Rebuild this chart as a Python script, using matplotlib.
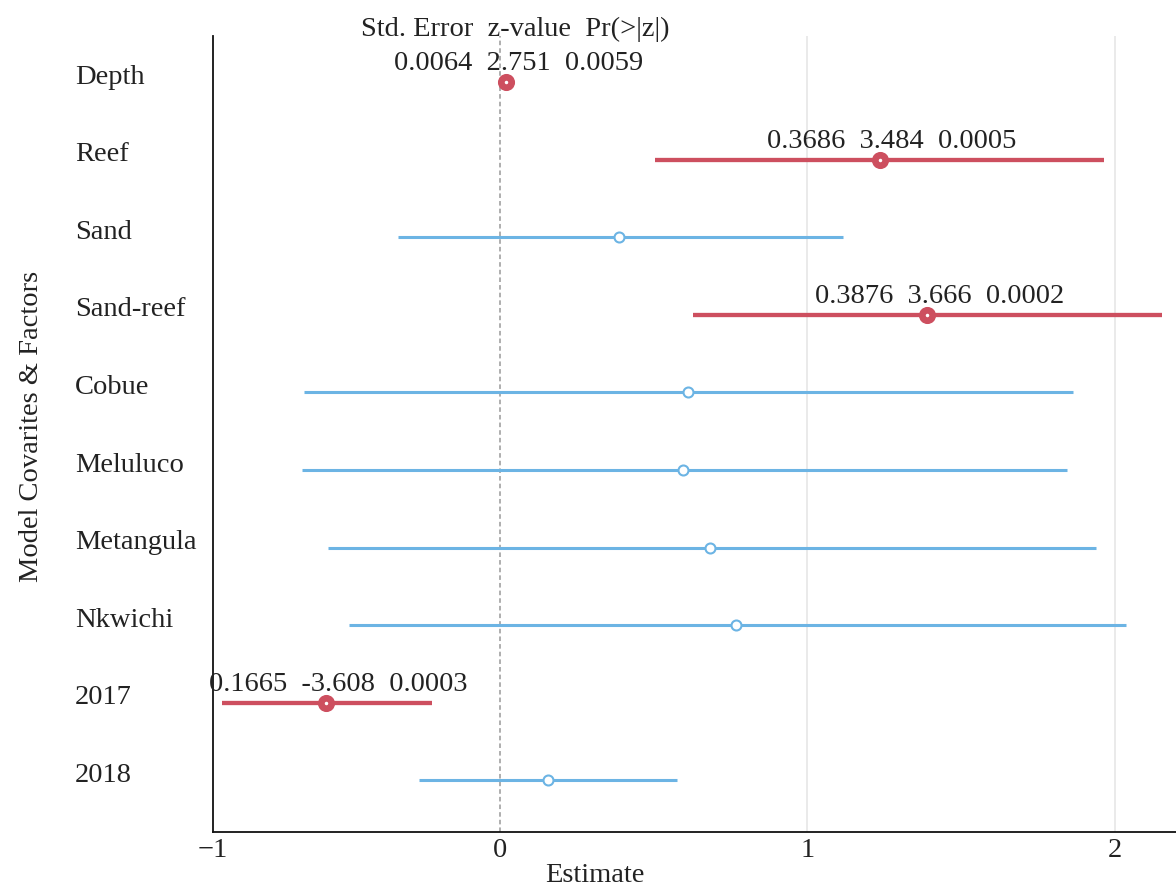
import numpy as np
import matplotlib
matplotlib.use('Agg')
import matplotlib.pyplot as plt
from matplotlib.transforms import ScaledTranslation

plt.rcParams['font.family'] = ['Liberation Serif', 'DejaVu Serif']

# 数据
terms = ['Depth', 'Reef', 'Sand', 'Sand-reef', 'Cobue', 'Meluluco',
         'Metangula', 'Nkwichi', '2017', '2018']
estimate = [0.019, 1.235, 0.388, 1.391, 0.612, 0.596, 0.684, 0.769, -0.567, 0.156]
ci_low = [0.007, 0.505, -0.332, 0.629, -0.638, -0.645, -0.560, -0.492, -0.906, -0.264]
ci_high = [0.031, 1.967, 1.117, 2.156, 1.866, 1.844, 1.938, 2.036, -0.221, 0.577]
significant = [True, True, False, True, False, False, False, False, True, False]
std_error = ['0.0064', '0.3686', '', '0.3876', '', '', '', '', '0.1665', '']
z_value = ['2.751', '3.484', '', '3.666', '', '', '', '', '-3.608', '']
p_value = ['0.0059', '0.0005', '', '0.0002', '', '', '', '', '0.0003', '']

red = '#cd4f5f'
blue = '#6cb4e4'
fs = 20.5

fig = plt.figure(figsize=(11.76, 8.88), dpi=100)
ax = fig.add_axes([213 / 1176, 56 / 888, 963 / 1176, (832 - 36) / 888])

n = len(terms)
ypos = np.arange(n)[::-1]

x_min = -0.935
ax.set_xlim(x_min, 2.2)
ax.set_ylim(-0.665, n - 1 + 0.593)

for xg in [1, 2]:
    ax.axvline(xg, color='#e6e6e6', lw=1.2, zorder=0)
ax.axvline(0, color='#999999', lw=1.1, ls=(0, (3, 2)), zorder=1)

for i in range(n):
    y = ypos[i]
    if significant[i]:
        ax.plot([ci_low[i], ci_high[i]], [y, y], color=red, lw=3.1,
                solid_capstyle='butt', zorder=2)
        ax.plot(estimate[i], y, 'o', ms=11.3, color=red, zorder=3)
        ax.plot(estimate[i], y, 'o', ms=1.5, color='white', zorder=4)
        label = f'{std_error[i]}  {z_value[i]}  {p_value[i]}'
        ax.annotate(label, (estimate[i], y), xytext=(9, 8.5),
                    textcoords='offset points', ha='center', va='baseline',
                    fontsize=fs, color='#222222', annotation_clip=False)
    else:
        ax.plot([ci_low[i], ci_high[i]], [y, y], color=blue, lw=2.2,
                solid_capstyle='butt', zorder=2)
        ax.plot(estimate[i], y, 'o', ms=7.2, mfc='white', mec=blue,
                mew=1.5, zorder=3)

# 表头
ax.annotate('Std. Error  z-value  Pr(>|z|)', (estimate[0], ypos[0]),
            xytext=(6.5, 33), textcoords='offset points', ha='center',
            va='baseline', fontsize=fs, color='#222222', annotation_clip=False)

ax.set_yticks(ypos)
ax.set_yticklabels(terms, fontsize=fs, ha='left', color='#222222')
ax.tick_params(axis='y', length=0, pad=99.4)
shift = ScaledTranslation(0, 8 / 100, fig.dpi_scale_trans)
for lab in ax.get_yticklabels():
    lab.set_transform(lab.get_transform() + shift)
ax.set_xticks([x_min, 0, 1, 2])
ax.set_xticklabels(['\u22121', '0', '1', '2'], fontsize=fs, color='#222222')
ax.tick_params(axis='x', length=0, pad=4)

ax.set_xlabel('Estimate', fontsize=fs, color='#222222')
ax.xaxis.set_label_coords(0.397, -0.039)
ax.set_ylabel('Model Covarites & Factors', fontsize=fs, color='#222222')
ax.yaxis.set_label_coords(-0.1755, 0.51)

for s in ['top', 'right']:
    ax.spines[s].set_visible(False)
for s in ['left', 'bottom']:
    ax.spines[s].set_linewidth(1.3)
    ax.spines[s].set_color('#111111')

plt.savefig('out.png', dpi=100)
